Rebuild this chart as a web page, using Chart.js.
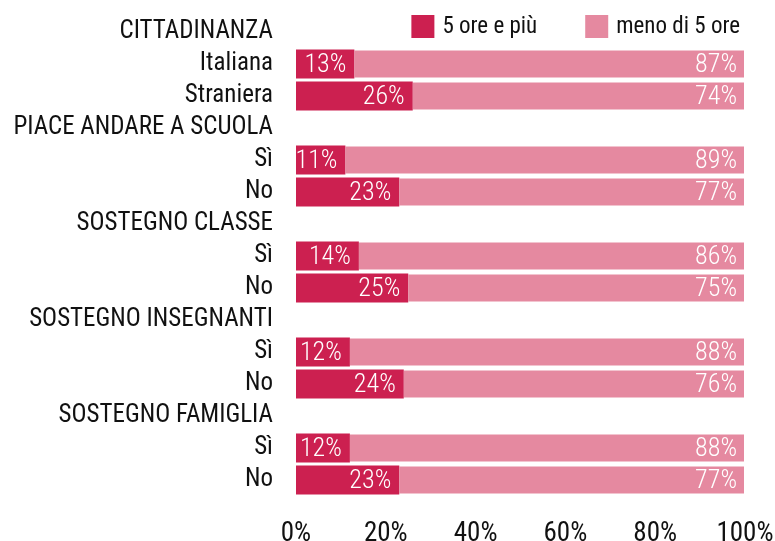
<!DOCTYPE html>
<html>
<head>
<meta charset="utf-8">
<script src="https://cdn.jsdelivr.net/npm/chart.js@4"></script>
<style>
  html, body { margin:0; padding:0; background:#fff; }
</style>
</head>
<body>
<canvas id="chart" width="775" height="541"></canvas>
<script>

const categories = [
      'CITTADINANZA', 'Italiana', 'Straniera',
      'PIACE ANDARE A SCUOLA', 'Sì', 'No',
      'SOSTEGNO CLASSE', 'Sì', 'No',
      'SOSTEGNO INSEGNANTI', 'Sì', 'No',
      'SOSTEGNO FAMIGLIA', 'Sì', 'No'
]

const seriesNames = ['5 ore e più', 'meno di 5 ore']

// header rows have no bar
const cinqueOre    = [null, 13, 26, null, 11, 23, null, 14, 25, null, 12, 24, null, 12, 23]
const menoDiCinque = [null, 87, 74, null, 89, 77, null, 86, 75, null, 88, 76, null, 88, 77]

const xTicks = [0, 20, 40, 60, 80, 100]

const colors = ['#cc2050', '#e589a0']

const FONT = "'Roboto Condensed', 'DejaVu Sans Condensed', sans-serif"


// white % labels at the end of each segment
const barLabels = {
      id: 'barLabels',
      afterDatasetsDraw(chart){
            const ctx = chart.ctx
            ctx.save()
            ctx.font = '300 26px ' + FONT
            ctx.fillStyle = '#fff'
            ctx.textAlign = 'right'
            ctx.textBaseline = 'middle'
            chart.data.datasets.forEach((ds, i) => {
                  chart.getDatasetMeta(i).data.forEach((el, j) => {
                        if(ds.data[j] == null){ return }
                        ctx.fillText(ds.data[j] + '%', el.x - 8, el.y + 1)
                  })
            })
            ctx.restore()
      }
}


// legend sits over the empty first row, top right
const topLegend = {
      id: 'topLegend',
      afterDraw(chart){
            const ctx = chart.ctx
            const area = chart.chartArea
            ctx.save()
            ctx.font = '23px ' + FONT
            ctx.textBaseline = 'middle'
            let x = area.right - 5
            const y = 26
            for(let i = chart.data.datasets.length - 1; i >= 0; i--){
                  const ds = chart.data.datasets[i]
                  const w = ctx.measureText(ds.label).width
                  x -= w
                  ctx.fillStyle = '#111'
                  ctx.fillText(ds.label, x, y + 1)
                  x -= 31
                  ctx.fillStyle = colors[i]
                  ctx.fillRect(x, y - 11, 23, 23)
                  x -= 48
            }
            ctx.restore()
      }
}


const setup = {
      type: 'bar',
      data: {
            labels: categories,
            datasets: [
                  { label: seriesNames[0], data: cinqueOre,    backgroundColor: colors[0] },
                  { label: seriesNames[1], data: menoDiCinque, backgroundColor: colors[1],
                    borderColor: 'rgba(255,255,255,0.35)', borderWidth: 1, borderSkipped: 'start' },
            ]
      },
      options: {
            responsive: false,
            animation: false,
            indexAxis: 'y',
            barPercentage: 0.9,
            categoryPercentage: 1,
            layout: { padding: { top: 16, left: 0, right: 30, bottom: 0 } },
            plugins: {
                  legend: { display: false },
                  tooltip: { enabled: false },
            },
            scales: {
                  x: {
                        stacked: true,
                        min: 0, max: 100,
                        grid: { display: false, drawTicks: false },
                        border: { display: false },
                        afterBuildTicks: s => { s.ticks = xTicks.map(v => ({ value: v })) },
                        afterFit: s => { s.height = 45; s.paddingLeft = 0; s.paddingRight = 0 },
                        ticks: {
                              padding: 22,
                              color: '#111',
                              font: { family: FONT, size: 27 },
                              callback: v => v + '%'
                        }
                  },
                  y: {
                        stacked: true,
                        grid: { display: false, drawTicks: false },
                        border: { display: false },
                        afterFit: s => { s.width = 296; s.paddingTop = 0; s.paddingBottom = 0 },
                        ticks: {
                              padding: 23,
                              color: '#111',
                              autoSkip: false,
                              font: { family: FONT, size: 25 },
                        }
                  }
            }
      },
      plugins: [barLabels, topLegend]
}

new Chart(document.getElementById('chart'), setup)
</script>
</body>
</html>
